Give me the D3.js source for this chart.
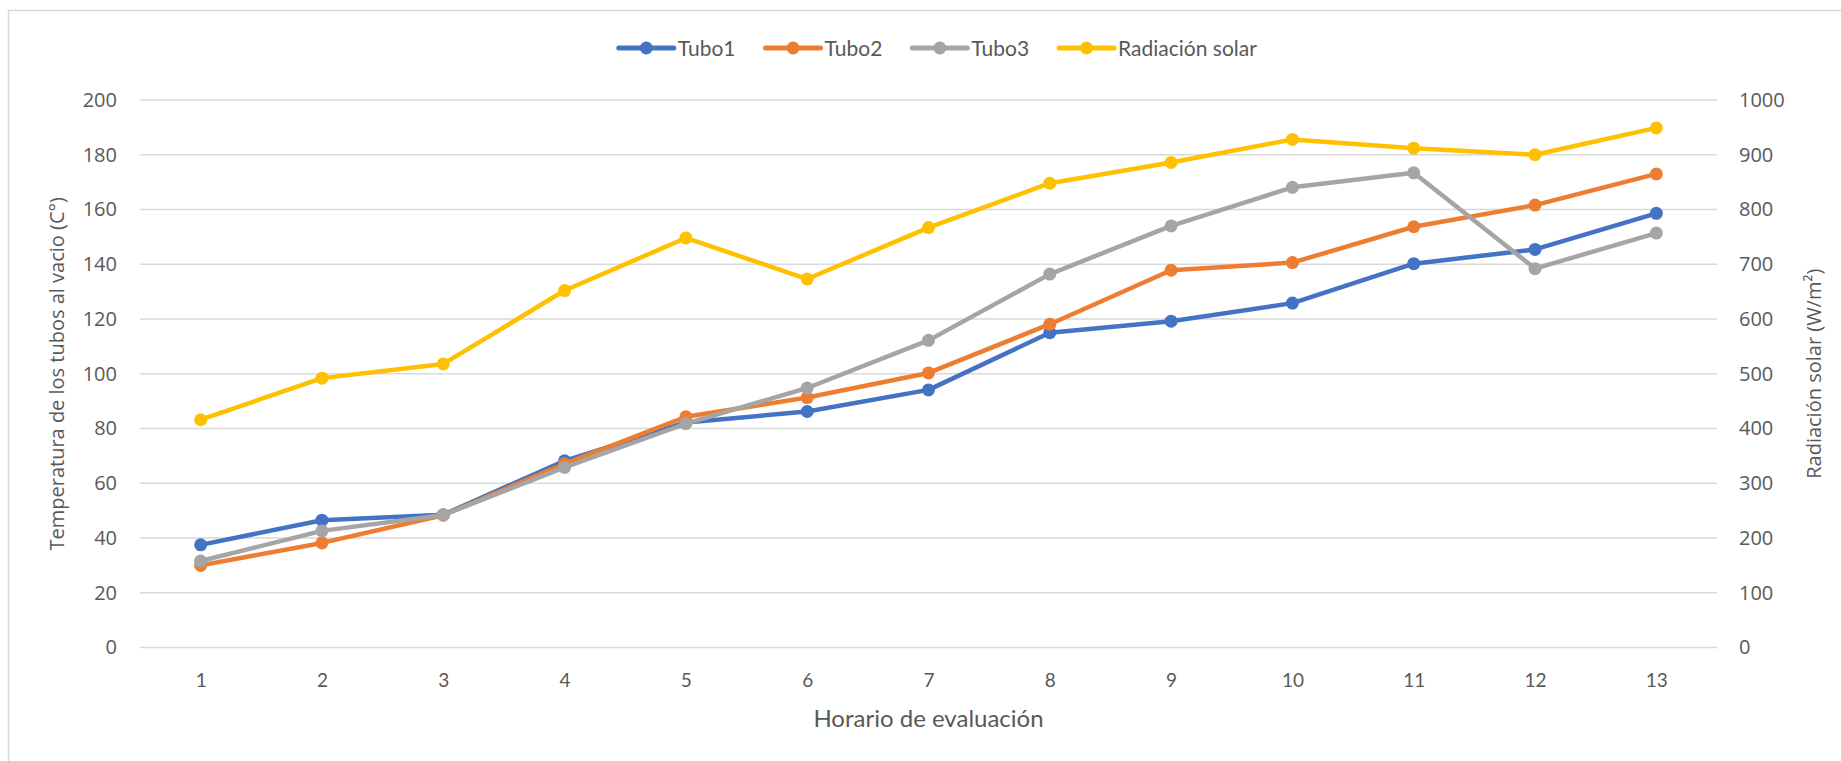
<!DOCTYPE html>
<html>
<head>
<meta charset="utf-8">
<script src="https://cdnjs.cloudflare.com/ajax/libs/d3/7.8.5/d3.min.js"></script>
<style>
  body { margin: 0; background: #fff; }
  .tick text { fill: #595959; }
  .valueTick text { font-family: "Open Sans", sans-serif; font-size: 20px; }
  .catTick text { font-family: Lato, sans-serif; font-size: 19px; }
  .aText { fill: #595959; }
</style>
</head>
<body>
<div id="chart"></div>
<script>
// Data
const categories = [1, 2, 3, 4, 5, 6, 7, 8, 9, 10, 11, 12, 13];
const tubo1 = [37.5, 46.5, 48.5, 68.2, 82.2, 86.2, 94.1, 115.0, 119.2, 125.8, 140.2, 145.4, 158.6];
const tubo2 = [30.0, 38.2, 48.3, 67.1, 84.3, 91.3, 100.3, 118.1, 137.8, 140.6, 153.7, 161.6, 173.0];
const tubo3 = [31.6, 42.6, 48.4, 65.8, 81.8, 94.8, 112.2, 136.4, 154.0, 168.1, 173.4, 138.4, 151.4];
const radiacion = [416, 492, 518, 652, 748, 673, 767, 848, 886, 928, 912, 900, 949];
const leftTicks = [0, 20, 40, 60, 80, 100, 120, 140, 160, 180, 200];
const rightTicks = [0, 100, 200, 300, 400, 500, 600, 700, 800, 900, 1000];

const seriesNames = ["Tubo1", "Tubo2", "Tubo3", "Radiación solar"];
const seriesColors = ["#4472C4", "#ED7D31", "#A5A5A5", "#FFC000"];

// Layout
const svgWidth = 1841, svgHeight = 761;
const plot = { left: 140, right: 1717, top: 100, bottom: 647.5 };

const svg = d3.select("#chart")
  .append("svg")
  .attr("width", svgWidth)
  .attr("height", svgHeight);

// chart border
svg.append("rect")
  .attr("x", 8.5)
  .attr("y", 10.5)
  .attr("width", svgWidth)
  .attr("height", svgHeight)
  .attr("fill", "#fff")
  .attr("stroke", "#d9d9d9")
  .attr("stroke-width", 1.5);

// Scales
const xScale = d3.scalePoint()
  .domain(categories)
  .range([plot.left, plot.right])
  .padding(0.5);

const yLeft = d3.scaleLinear()
  .domain([0, 200])
  .range([plot.bottom, plot.top]);

const yRight = d3.scaleLinear()
  .domain([0, 1000])
  .range([plot.bottom, plot.top]);

// Gridlines
svg.append("g")
  .selectAll("line")
  .data(leftTicks)
  .enter()
  .append("line")
  .attr("x1", plot.left)
  .attr("x2", plot.right)
  .attr("y1", d => yLeft(d))
  .attr("y2", d => yLeft(d))
  .attr("stroke", "#d9d9d9")
  .attr("stroke-width", 1.5);

// Axes (labels only)
const leftAxis = svg.append("g")
  .attr("class", "valueTick")
  .attr("transform", `translate(${plot.left - 23}, 0)`)
  .call(d3.axisLeft(yLeft).tickValues(leftTicks).tickSize(0).tickPadding(0).tickFormat(d3.format("d")));

const rightAxis = svg.append("g")
  .attr("class", "valueTick")
  .attr("transform", `translate(${plot.right + 22}, 0)`)
  .call(d3.axisRight(yRight).tickValues(rightTicks).tickSize(0).tickPadding(0).tickFormat(d3.format("d")));

const bottomAxis = svg.append("g")
  .attr("class", "catTick")
  .attr("transform", `translate(0, ${plot.bottom + 26})`)
  .call(d3.axisBottom(xScale).tickSize(0).tickPadding(0));

[leftAxis, rightAxis, bottomAxis].forEach(a => a.select(".domain").remove());
bottomAxis.selectAll("text").attr("dy", "0.71em");

// Lines and markers
const allSeries = [
  { values: tubo1, scale: yLeft },
  { values: tubo2, scale: yLeft },
  { values: tubo3, scale: yLeft },
  { values: radiacion, scale: yRight }
];

allSeries.forEach((s, i) => {
  const line = d3.line()
    .x((d, j) => xScale(categories[j]))
    .y(d => s.scale(d));

  const g = svg.append("g");

  g.append("path")
    .datum(s.values)
    .attr("d", line)
    .attr("fill", "none")
    .attr("stroke", seriesColors[i])
    .attr("stroke-width", 4.5)
    .attr("stroke-linejoin", "round")
    .attr("stroke-linecap", "round");

  g.selectAll("circle")
    .data(s.values)
    .enter()
    .append("circle")
    .attr("cx", (d, j) => xScale(categories[j]))
    .attr("cy", d => s.scale(d))
    .attr("r", 6.5)
    .attr("fill", seriesColors[i]);
});

// Axis titles
svg.append("text")
  .attr("class", "aText")
  .attr("transform", `translate(57, ${(plot.top + plot.bottom) / 2}) rotate(-90)`)
  .attr("text-anchor", "middle")
  .attr("dy", "0.35em")
  .style("font-family", "'Open Sans', sans-serif")
  .style("font-size", "20px")
  .text("Temperatura de los tubos al vacio (C°)");

svg.append("text")
  .attr("class", "aText")
  .attr("transform", `translate(1814, ${(plot.top + plot.bottom) / 2}) rotate(-90)`)
  .attr("text-anchor", "middle")
  .attr("dy", "0.35em")
  .style("font-family", "'Open Sans', sans-serif")
  .style("font-size", "20px")
  .text("Radiación solar (W/m²)");

svg.append("text")
  .attr("class", "aText")
  .attr("x", (plot.left + plot.right) / 2)
  .attr("y", 727)
  .attr("text-anchor", "middle")
  .style("font-family", "Lato, sans-serif")
  .style("font-size", "24px")
  .text("Horario de evaluación");

// Legend
const legend = svg.append("g");
const items = legend.selectAll("g")
  .data(seriesNames)
  .enter()
  .append("g");

items.append("line")
  .attr("x1", 0).attr("x2", 55)
  .attr("y1", 0).attr("y2", 0)
  .attr("stroke", (d, i) => seriesColors[i])
  .attr("stroke-width", 5)
  .attr("stroke-linecap", "round");

items.append("circle")
  .attr("cx", 27.5)
  .attr("r", 6.5)
  .attr("fill", (d, i) => seriesColors[i]);

items.append("text")
  .attr("class", "aText")
  .attr("x", 59)
  .attr("dy", "0.36em")
  .style("font-family", "Lato, sans-serif")
  .style("font-size", "21px")
  .text(d => d);

// place legend items side by side, centred
let offset = 0;
const offsets = [];
items.each(function() {
  offsets.push(offset);
  offset += this.getBBox().width + 30;
});
const legendWidth = offset - 30;
const legendStart = 938 - legendWidth / 2;
items.attr("transform", (d, i) => `translate(${legendStart + offsets[i]}, 48)`);
</script>
</body>
</html>
